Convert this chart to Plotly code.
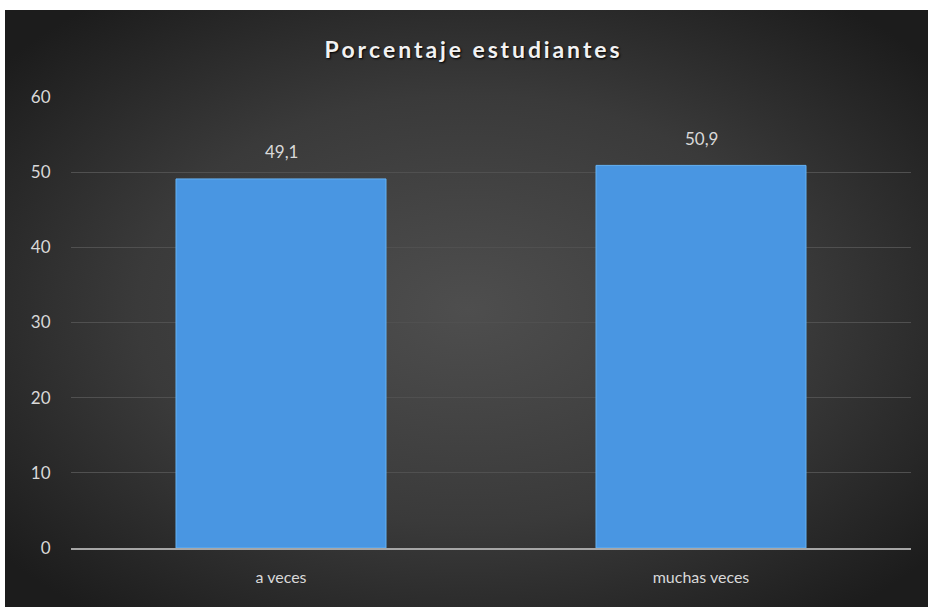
import plotly.graph_objects as go
import urllib.parse

categories = ["a veces", "muchas veces"]
values = [49.1, 50.9]
y_ticks = [0, 10, 20, 30, 40, 50, 60]

W, H = 928, 607
L, R, T, B = 71, 17, 97, 59
pw, ph = W - L - R, H - T - B

svg = (
    "<svg xmlns='http://www.w3.org/2000/svg' width='923' height='597' viewBox='0 0 923 597' preserveAspectRatio='none'>"
    "<defs><radialGradient id='g' cx='50%' cy='50%' r='65%'>"
    "<stop offset='0%' stop-color='#4e4e4e'/>"
    "<stop offset='55%' stop-color='#3a3a3a'/>"
    "<stop offset='100%' stop-color='#1c1c1c'/>"
    "</radialGradient></defs>"
    "<rect width='923' height='597' fill='url(#g)'/></svg>"
)
bg_src = "data:image/svg+xml;charset=utf-8," + urllib.parse.quote(svg)

x0 = (5 - L) / pw
x1 = (W + 2 - L) / pw
ytop = (H - B - 10) / ph
ybot = (H - B - H - 2) / ph
pleft = (0 - L) / pw
ptop = (H - B) / ph

fig = go.Figure()
fig.add_trace(go.Bar(
    x=categories, y=values, width=0.5,
    marker=dict(color="#4996e2", line=dict(color="#64b2f4", width=1)),
    hoverinfo="skip",
))

for c, v in zip(categories, values):
    fig.add_annotation(
        x=c, y=v, text=f"{v:.1f}".replace(".", ","), showarrow=False,
        yshift=27, yanchor="middle",
        font=dict(family="Lato, Open Sans, sans-serif", size=17, color="#d9d9d9"),
    )

title_text = "\u2009".join("Porcentaje") + "\u2009\u2009\u2009\u2009" + "\u2009".join("estudiantes")

# white page margins above and left of the chart frame
fig.add_shape(type="rect", xref="paper", yref="paper",
              x0=pleft, x1=x1, y0=ytop, y1=ptop + 0.01,
              fillcolor="white", line=dict(width=0), layer="below")
fig.add_shape(type="rect", xref="paper", yref="paper",
              x0=pleft - 0.01, x1=x0, y0=ybot, y1=ptop + 0.01,
              fillcolor="white", line=dict(width=0), layer="below")

fig.update_layout(
    width=W, height=H,
    margin=dict(l=L, r=R, t=T, b=B),
    paper_bgcolor="#2a2a2a",
    plot_bgcolor="rgba(0,0,0,0)",
    separators=",.",
    showlegend=False,
    title=dict(
        text="<b>" + title_text + "</b>",
        x=472 / W, xanchor="center", xref="container",
        y=1 - 50 / H, yanchor="middle", yref="container",
        font=dict(family="Lato, Open Sans, sans-serif", size=23, color="#f2f2f2",
                  shadow="1px 1px 2px #000000"),
    ),
    images=[dict(
        source=bg_src, xref="paper", yref="paper",
        x=x0, y=ytop, sizex=x1 - x0, sizey=ytop - ybot,
        xanchor="left", yanchor="top", sizing="stretch", layer="below",
    )],
    xaxis=dict(
        range=[-0.5, 1.5], showgrid=False, zeroline=False,
        showline=True, linecolor="#a6a6a6", linewidth=2,
        ticks="outside", ticklen=14, tickcolor="rgba(0,0,0,0)",
        tickfont=dict(family="Lato, Open Sans, sans-serif", size=16, color="#d9d9d9"),
    ),
    yaxis=dict(
        range=[0, 60], tickvals=y_ticks, showgrid=True, gridcolor="#505050", gridwidth=1,
        zeroline=False, showline=False,
        ticks="outside", ticklen=16, tickcolor="rgba(0,0,0,0)",
        tickfont=dict(family="Lato, Open Sans, sans-serif", size=17, color="#d9d9d9"),
    ),
)

fig.write_html(
    "out.html",
    config={"displayModeBar": False},
    post_script="document.body.style.margin='0px';document.body.style.overflow='hidden';",
)
